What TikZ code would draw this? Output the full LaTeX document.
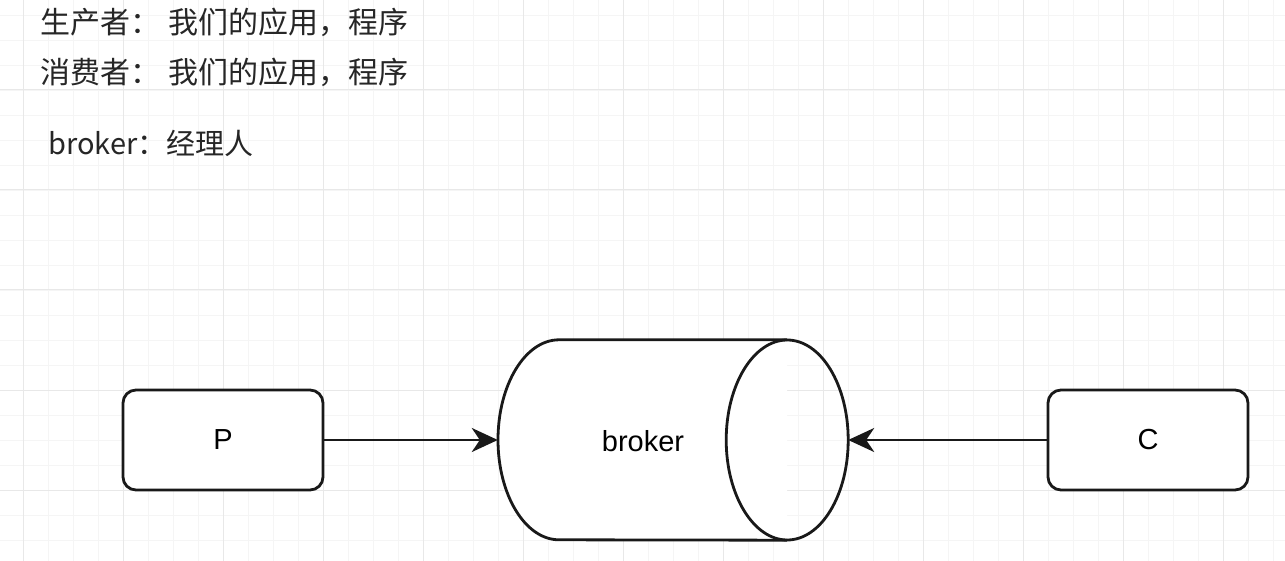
\documentclass[tikz,border=0pt]{standalone}
\usepackage{fontspec}
\setmainfont{Liberation Sans}
\newfontfamily\cjk{Noto Sans CJK SC}
\usetikzlibrary{arrows.meta}
\tikzset{
  minorgrid/.style={draw=black!4, line width=0.8pt},
  majorgrid/.style={draw=black!9, line width=1pt},
  shapeline/.style={draw=black!90, line width=2.8pt},
  boxnode/.style={shapeline, rounded corners=13pt, minimum width=200pt, minimum height=100pt, inner sep=0pt, font=\fontsize{29}{32}\selectfont, fill=white},
  drumbody/.style={minimum width=350pt, minimum height=200pt, inner sep=0pt},
  conn/.style={line width=2.5pt, draw=black!90, -{Stealth[length=26pt,width=24pt,inset=8pt]}},
  note/.style={anchor=west, inner sep=0pt, font=\cjk\fontsize{30}{32}\selectfont, text=black!85},
}
\begin{document}
\begin{tikzpicture}[x=1pt,y=-1pt]
\useasboundingbox (0,0) rectangle (1285,561);
\fill[white] (0,0) rectangle (1285,561);
% grid
\foreach \i in {0,...,51} { \draw[minorgrid] ({23+25*\i-25},0) -- ({23+25*\i-25},561); }
\foreach \j in {0,...,23} { \draw[minorgrid] (0,{15+25*\j}) -- (1285,{15+25*\j}); }
\foreach \i in {0,...,12} { \draw[majorgrid] ({23+100*\i},0) -- ({23+100*\i},561); }
\foreach \j in {0,...,5} { \draw[majorgrid] (0,{90+100*\j-100}) -- (1285,{90+100*\j-100}); }
% texts
\node[note] (t1) at (40,22) {生产者：\hspace{8pt}我们的应用，程序};
\node[note] (t2) at (40,72) {消费者：\hspace{8pt}我们的应用，程序};
\node[note, font=\cjk\fontsize{29}{32}\selectfont] (t3) at (48,143) {broker：经理人};
% nodes
\node[boxnode] (P) at (223,440) {P};
\node[boxnode] (C) at (1148,440) {C};
\node[drumbody] (B) at (673,440) {};
\path[shapeline, fill=white] ([xshift=114pt]B.north) -- ([xshift=-114pt]B.north)
  arc[start angle=90, end angle=270, x radius=61pt, y radius=100pt]
  -- ([xshift=114pt]B.south);
\draw[shapeline] ([xshift=-61pt]B.east) ellipse[x radius=61pt, y radius=100pt];
\node[font=\fontsize{29}{32}\selectfont, inner sep=0pt] (BL) at (643,441) {broker};
% connectors
\draw[conn] (P.east) -- (B.west);
\draw[conn] (C.west) -- (B.east);
\end{tikzpicture}
\end{document}
